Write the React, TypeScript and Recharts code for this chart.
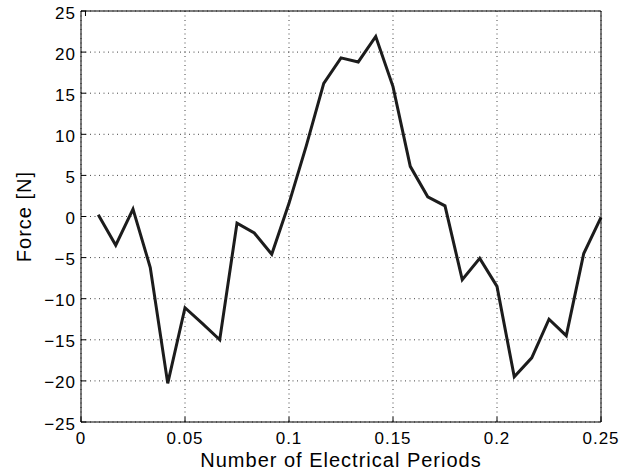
import { LineChart, Line, XAxis, YAxis, CartesianGrid } from "recharts"

// sample positions (electrical periods) and measured force
const periods = [
  0.0083, 0.0167, 0.025, 0.0333, 0.0417, 0.05, 0.0583, 0.0667, 0.075, 0.0833,
  0.0917, 0.1, 0.1083, 0.1167, 0.125, 0.1333, 0.1417, 0.15, 0.1583, 0.1667,
  0.175, 0.1833, 0.1917, 0.2, 0.2083, 0.2167, 0.225, 0.2333, 0.2417, 0.25,
]
const force = [
  0.2, -3.5, 0.9, -6.2, -20.3, -11.1, -13.0, -15.0, -0.8, -2.0,
  -4.6, 1.6, 8.6, 16.2, 19.3, 18.8, 21.9, 15.8, 6.1, 2.4,
  1.3, -7.7, -5.1, -8.5, -19.5, -17.2, -12.5, -14.5, -4.5, -0.1,
]
const xTicks = [0, 0.05, 0.1, 0.15, 0.2, 0.25]
const yTicks = [-25, -20, -15, -10, -5, 0, 5, 10, 15, 20, 25]

const data = periods.map((p, i) => ({ p, f: force[i] }))

const FONT = "'Liberation Sans', Arial, Helvetica, sans-serif"
const TICK = 5
const labelText = { fill: "#000", fontSize: 17, fontFamily: FONT, letterSpacing: 1 }
const fmtY = (v: number) => (v < 0 ? "\u2212" + Math.abs(v) : String(v))

// matlab style: tick marks point into the plot box
const BottomTick = ({ x, y, payload }: any) => (
  <g>
    <line x1={x} x2={x} y1={y} y2={y - TICK} stroke="#000" />
    <text x={x} y={y + 21.5} textAnchor="middle" {...labelText}>{payload.value}</text>
  </g>
)
const TopTick = ({ x, y }: any) => <line x1={x} x2={x} y1={y} y2={y + TICK} stroke="#000" />
const LeftTick = ({ x, y, payload }: any) => (
  <g>
    <line x1={x} x2={x + TICK} y1={y} y2={y} stroke="#000" />
    <text x={x - 5} y={y + 7.5} textAnchor="end" {...labelText}>{fmtY(payload.value)}</text>
  </g>
)
const RightTick = ({ x, y }: any) => <line x1={x} x2={x - TICK} y1={y} y2={y} stroke="#000" />

export default function App() {
  return (
    <div style={{ position: "absolute", left: 0, top: 0, width: 633, height: 474, background: "#fff" }}>
      <LineChart width={633} height={474} data={data} margin={{ top: 0, right: 0, bottom: 0, left: 0 }}>
        <CartesianGrid stroke="#444" strokeDasharray="1 3.5" />
        <XAxis
          dataKey="p"
          type="number"
          domain={[0, 0.25]}
          ticks={xTicks}
          height={52}
          tickLine={false}
          tickSize={0}
          tickMargin={0}
          stroke="#000"
          tick={<BottomTick />}
          label={{ value: "Number of Electrical Periods", position: "insideBottom", offset: 7, fill: "#000", fontSize: 20, fontFamily: FONT, letterSpacing: 1 }}
        />
        <XAxis
          xAxisId="top"
          orientation="top"
          type="number"
          domain={[0, 0.25]}
          ticks={xTicks}
          height={11}
          tickLine={false}
          tickSize={0}
          tickMargin={0}
          stroke="#000"
          tick={<TopTick />}
        />
        <YAxis
          type="number"
          domain={[-25, 25]}
          ticks={yTicks}
          width={81}
          tickLine={false}
          tickSize={0}
          tickMargin={0}
          stroke="#000"
          tick={<LeftTick />}
          label={{ value: "Force [N]", angle: -90, position: "center", dx: -17, fill: "#000", fontSize: 20, fontFamily: FONT, letterSpacing: 1 }}
        />
        <YAxis
          yAxisId="right"
          orientation="right"
          type="number"
          domain={[-25, 25]}
          ticks={yTicks}
          width={32}
          tickLine={false}
          tickSize={0}
          tickMargin={0}
          stroke="#000"
          tick={<RightTick />}
        />
        <Line
          dataKey="f"
          type="linear"
          stroke="#1c1c1c"
          strokeWidth={3}
          dot={false}
          isAnimationActive={false}
        />
      </LineChart>
    </div>
  )
}
